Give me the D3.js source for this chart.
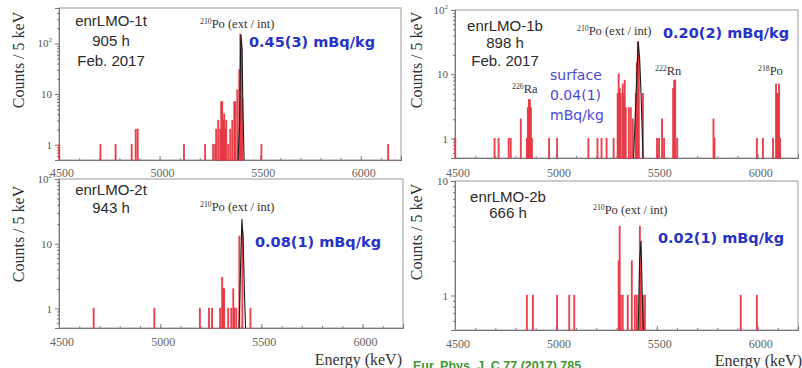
<!DOCTYPE html>
<html>
<head>
<meta charset="utf-8">
<script src="https://cdn.jsdelivr.net/npm/d3@7"></script>
<style>
body{margin:0;background:#fff;}
svg{display:block;}
</style>
</head>
<body>
<svg id="chart" width="802" height="368"></svg>
<script>
// ##### data : red = spectrum (bin start keV, counts / 5 keV), black = 210Po fit #####
var red_1t = [[4500,1],[4705,1],[4780,1],[4860,1],[4880,2],[4890,2],[5120,1],[5225,1],[5265,1],[5275,1],[5280,2],[5290,3],
	[5300,2],[5305,7],[5310,7],[5315,3],[5320,4],[5325,2],[5330,3],[5340,1],[5350,2],[5360,3],[5370,7],[5375,7],[5385,12],
	[5395,30],[5400,150],[5405,80],[5410,8],[5505,1],[6135,1]];
var black_1t = [[5390,0.5],[5398,3],[5404,150],[5410,80],[5414,6],[5420,0.5]];

var red_1b = [[4500,1],[4695,1],[4715,1],[4765,1],[4775,1],[4825,2],[4855,1],[4860,3],[4865,4],[4870,4],[4875,3],[4880,1],
	[4965,1],[5005,1],[5160,1],[5205,1],[5225,1],[5250,1],[5285,1],[5305,5],[5310,10],[5315,6],[5320,5],[5330,7],[5335,5],
	[5340,8],[5345,3],[5360,3],[5370,3],[5380,2],[5395,5],[5400,15],[5405,32],[5410,20],[5430,5],[5500,1],[5510,1],[5525,2],
	[5535,1],[5580,6],[5585,8],[5590,8],[5600,1],[5780,2],[5785,1],[5995,1],[6025,1],[6075,1],[6090,7],[6095,5],[6100,5],
	[6105,7],[6110,1]];
var black_1b = [[5385,0.5],[5393,2],[5400,8],[5408,32],[5415,18],[5422,5],[5432,0.5]];

var red_2t = [[4670,1],[4970,1],[5195,1],[5240,1],[5255,1],[5295,1],[5305,3],[5310,2],[5315,2],[5335,1],[5350,1],[5360,2],
	[5365,1],[5375,1],[5390,13],[5405,15],[5445,1]];
var black_2t = [[5390,0.5],[5397,4],[5404,24],[5410,12],[5416,2],[5422,0.5]];

var red_2b = [[4855,1],[4885,1],[5005,1],[5065,1],[5090,1],[5310,2],[5315,4],[5320,1],[5330,1],[5355,1],[5375,2],[5390,1],
	[5400,1],[5415,4],[5420,2],[5430,1],[5440,1],[5915,1],[5995,1]];
var black_2b = [[5408,0.5],[5415,2],[5422,3],[5428,1],[5434,0.5]];

var xTicks = [4500,5000,5500,6000];
var xDomain = [4500,6200];
var binWidth = 5;

// ##### panels #####
var panels = [
	{red: red_1t, black: black_1t, ymax: 500, yticks: [1,10,100],
	 box: {l:59, r:401, t:8, b:160}, xlab: 177, ylabX: 18, ylabY: 60,
	 name: ["enrLMO-1t","905 h","Feb. 2017"], nameX: 111, nameY: [26,46,66],
	 po: {x:200, y:28, iso:"210", txt:"Po (ext / int)"},
	 act: {x:249, y:47, txt:"0.45(3) mBq/kg"}, iso: []},
	{red: red_1b, black: black_1b, ymax: 100, yticks: [1,10,100],
	 box: {l:455, r:798, t:10, b:158}, xlab: 177, ylabX: 416, ylabY: 60,
	 name: ["enrLMO-1b","898 h","Feb. 2017"], nameX: 505, nameY: [31,48,66],
	 po: {x:577, y:35, iso:"210", txt:"Po (ext / int)"},
	 act: {x:663, y:38, txt:"0.20(2) mBq/kg"},
	 surf: {x:550, y:[80,100,120], txt:["surface","0.04(1)","mBq/kg"]},
	 iso: [{x:512, y:93, iso:"226", txt:"Ra"},{x:655, y:75, iso:"222", txt:"Rn"},{x:758, y:75, iso:"218", txt:"Po"}]},
	{red: red_2t, black: black_2t, ymax: 100, yticks: [1,10,100],
	 box: {l:59, r:403, t:179, b:328}, xlab: 346, ylabX: 18, ylabY: 234,
	 name: ["enrLMO-2t","943 h"], nameX: 111, nameY: [195,213],
	 po: {x:200, y:211, iso:"210", txt:"Po (ext / int)"},
	 act: {x:255, y:247, txt:"0.08(1) mBq/kg"}, iso: []},
	{red: red_2b, black: black_2b, ymax: 10, yticks: [1,10],
	 box: {l:455, r:798, t:181, b:330}, xlab: 348, ylabX: 416, ylabY: 232,
	 name: ["enrLMO-2b","666 h"], nameX: 508, nameY: [202,218],
	 po: {x:593, y:214, iso:"210", txt:"Po (ext / int)"},
	 act: {x:658, y:243, txt:"0.02(1) mBq/kg"}, iso: []}
];

var svg = d3.select("#chart");
var serif = "'Liberation Serif','DejaVu Serif',serif";
var sans = "'Liberation Sans',Arial,sans-serif";

function isoText(g, o, size) {
	var t = g.append("text").attr("x", o.x).attr("y", o.y)
		.style("font-family", serif).style("font-size", size + "px").attr("fill", "#333");
	t.append("tspan").attr("dy", -4).style("font-size", (size * 0.62) + "px").text(o.iso);
	t.append("tspan").attr("dy", 4).text(o.txt);
}

panels.forEach(function(p) {
	var g = svg.append("g");
	var x = d3.scaleLinear().domain(xDomain).range([p.box.l, p.box.r]);
	var y = d3.scaleLog().domain([0.5, p.ymax]).range([p.box.b, p.box.t]);

	// frame
	g.append("rect").attr("x", p.box.l).attr("y", p.box.t)
		.attr("width", p.box.r - p.box.l).attr("height", p.box.b - p.box.t)
		.attr("fill", "none").attr("stroke", "#9a9a9a");

	// y minor ticks
	var minor = [];
	for (var d = 0.1; d < p.ymax; d *= 10) {
		for (var k = 2; k <= 9; k++) { var v = d * k; if (v >= 0.5 && v <= p.ymax) minor.push(v); }
	}
	var yMin = g.append("g").attr("transform", "translate(" + p.box.l + ",0)")
		.call(d3.axisLeft(y).tickValues(minor).tickSize(2).tickFormat(""));
	var yAx = g.append("g").attr("transform", "translate(" + p.box.l + ",0)")
		.call(d3.axisLeft(y).tickValues(p.yticks).tickSize(4).tickPadding(3).tickFormat(function(v) { return v >= 100 ? "10" : String(v); }));
	yAx.selectAll("text").filter(function(v) { return v >= 100; })
		.append("tspan").attr("dy", -5).style("font-size", "7px").text("2");
	[yMin, yAx].forEach(function(a) {
		a.select(".domain").attr("stroke", "#777");
		a.selectAll(".tick line").attr("stroke", "#777");
	});
	yAx.selectAll("text").style("font-family", serif).style("font-size", "11px").attr("fill", "#555");

	// x ticks (inward)
	var xMinor = d3.range(4600, 6200, 100);
	var xMin = g.append("g").attr("transform", "translate(0," + p.box.b + ")")
		.call(d3.axisTop(x).tickValues(xMinor).tickSize(2).tickFormat(""));
	var xAx = g.append("g").attr("transform", "translate(0," + p.box.b + ")")
		.call(d3.axisTop(x).tickValues(xTicks).tickSize(4).tickFormat(""));
	[xMin, xAx].forEach(function(a) {
		a.select(".domain").attr("stroke", "#777");
		a.selectAll(".tick line").attr("stroke", "#888");
	});
	g.selectAll(".xlab").data(xTicks).enter().append("text")
		.attr("x", function(v) { return x(v) + 3; }).attr("y", p.xlab)
		.attr("text-anchor", "middle")
		.style("font-family", serif).style("font-size", "12px").attr("fill", "#666")
		.text(function(v) { return v; });

	// red spectrum
	g.selectAll(".bin").data(p.red).enter().append("rect")
		.attr("x", function(d) { return x(d[0]); })
		.attr("width", function(d) { return Math.max(0.5, x(d[0] + binWidth) - x(d[0]) - 1); })
		.attr("y", function(d) { return y(d[1]); })
		.attr("height", function(d) { return p.box.b - y(d[1]); })
		.attr("fill", "#f6a9ad").attr("stroke", "#e5323e").attr("stroke-width", 1.4)
		.attr("stroke-opacity", 0.9);

	// black 210Po peak
	var line = d3.line().x(function(d) { return x(d[0]); }).y(function(d) { return y(d[1]); });
	g.append("path").attr("d", line(p.black))
		.attr("fill", "none").attr("stroke", "#1a1a1a").attr("stroke-width", 1.1);

	// y label
	g.append("text").attr("transform", "translate(" + p.ylabX + "," + p.ylabY + ") rotate(-90)")
		.attr("text-anchor", "middle").attr("dy", "0.35em")
		.style("font-family", serif).style("font-size", "16px").attr("fill", "#333")
		.text("Counts / 5 keV");

	// crystal name
	p.name.forEach(function(s, i) {
		g.append("text").attr("x", p.nameX).attr("y", p.nameY[i]).attr("text-anchor", "middle")
			.style("font-family", sans).style("font-size", "15px").attr("fill", "#2a2a2a").text(s);
	});

	isoText(g, p.po, 12.5);
	p.iso.forEach(function(o) { isoText(g, o, 12.5); });

	g.append("text").attr("x", p.act.x).attr("y", p.act.y)
		.style("font-family", "'DejaVu Sans',Verdana,sans-serif").style("font-weight", "bold")
		.style("font-size", "14.5px").attr("fill", "#2632c8").text(p.act.txt);

	if (p.surf) {
		p.surf.txt.forEach(function(s, i) {
			g.append("text").attr("x", p.surf.x).attr("y", p.surf.y[i])
				.style("font-family", "'DejaVu Sans',Verdana,sans-serif").style("font-size", "14px")
				.attr("fill", "#4a4ad8").text(s);
		});
	}
});

// x labels under bottom panels
[[402, 365], [802, 366]].forEach(function(pos) {
	svg.append("text").attr("x", pos[0]).attr("y", pos[1]).attr("text-anchor", "end")
		.style("font-family", serif).style("font-size", "16px").attr("fill", "#333")
		.text("Energy (keV)");
});

svg.append("text").attr("x", 413).attr("y", 370)
	.style("font-family", sans).style("font-weight", "bold").style("font-size", "12.5px")
	.attr("fill", "#3f9530").text("Eur. Phys. J. C 77 (2017) 785");
</script>
</body>
</html>
